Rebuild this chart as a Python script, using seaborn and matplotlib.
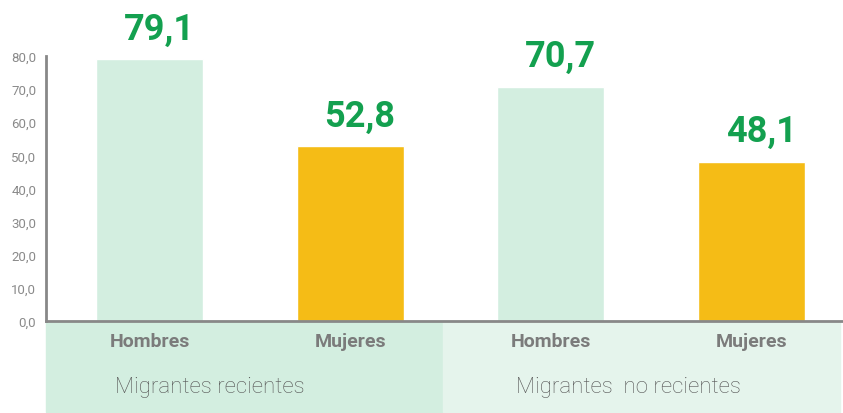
import seaborn as sns
import matplotlib.pyplot as plt
import pandas as pd
from matplotlib.patches import Rectangle

grupos = ['Migrantes recientes', 'Migrantes  no recientes']
sexos = ['Hombres', 'Mujeres', 'Hombres', 'Mujeres']
valores = [79.1, 52.8, 70.7, 48.1]
ids = ['h_rec', 'm_rec', 'h_norec', 'm_norec']
yticks = [0, 10, 20, 30, 40, 50, 60, 70, 80]

verde_claro = '#d3eee0'
verde_claro2 = '#e5f4ec'
amarillo = '#f5bc16'
verde = '#13a04f'

df = pd.DataFrame({'id': ids, 'sexo': sexos, 'valor': valores})

sns.set_theme(style='white')
plt.rcParams['font.family'] = ['Roboto', 'DejaVu Sans']

fig = plt.figure(figsize=(8.43, 4.14), dpi=100)
ax = fig.add_axes([46 / 843, 92 / 414, 797 / 843, 265 / 414])

sns.barplot(data=df, x='id', y='valor', hue='sexo', order=ids, dodge=False,
            palette={'Hombres': verde_claro, 'Mujeres': amarillo},
            width=0.533, saturation=1, legend=False, ax=ax)

ax.set_xlim(-0.516, 3.456)
ax.set_ylim(0, 80)
ax.set_yticks(yticks)
ax.set_yticklabels([f'{v:.1f}'.replace('.', ',') for v in yticks],
                   fontsize=9.5, color='#8a8a8a')
ax.set_xticks(range(len(ids)))
ax.set_xticklabels(sexos, fontsize=14, fontweight='bold', color='#7b7b7b')
ax.tick_params(axis='y', length=0, pad=7)
ax.tick_params(axis='x', length=0, pad=8)
ax.set_xlabel(None)
ax.set_ylabel(None)
for s in ['top', 'right']:
    ax.spines[s].set_visible(False)
for s in ['left', 'bottom']:
    ax.spines[s].set_color('#888888')
    ax.spines[s].set_linewidth(2)

for i, v in enumerate(valores):
    ax.annotate(f'{v:.1f}'.replace('.', ','), (i, v), xytext=(7, 9),
                textcoords='offset points', ha='center', va='bottom',
                fontsize=26, fontweight='bold', color=verde)

# cajas de grupo bajo el eje
fig.add_artist(Rectangle((46 / 843, 1 / 414), 397 / 843, 91 / 414,
                         transform=fig.transFigure, color=verde_claro, zorder=-1))
fig.add_artist(Rectangle((443 / 843, 1 / 414), 397 / 843, 91 / 414,
                         transform=fig.transFigure, color=verde_claro2, zorder=-1))
fig.text(210 / 843, 26 / 414, grupos[0], ha='center', va='center',
         fontsize=16, fontweight='light', color='#555555')
fig.text(628 / 843, 26 / 414, grupos[1], ha='center', va='center',
         fontsize=16, fontweight='light', color='#555555')

fig.savefig('out.png', dpi=100)
